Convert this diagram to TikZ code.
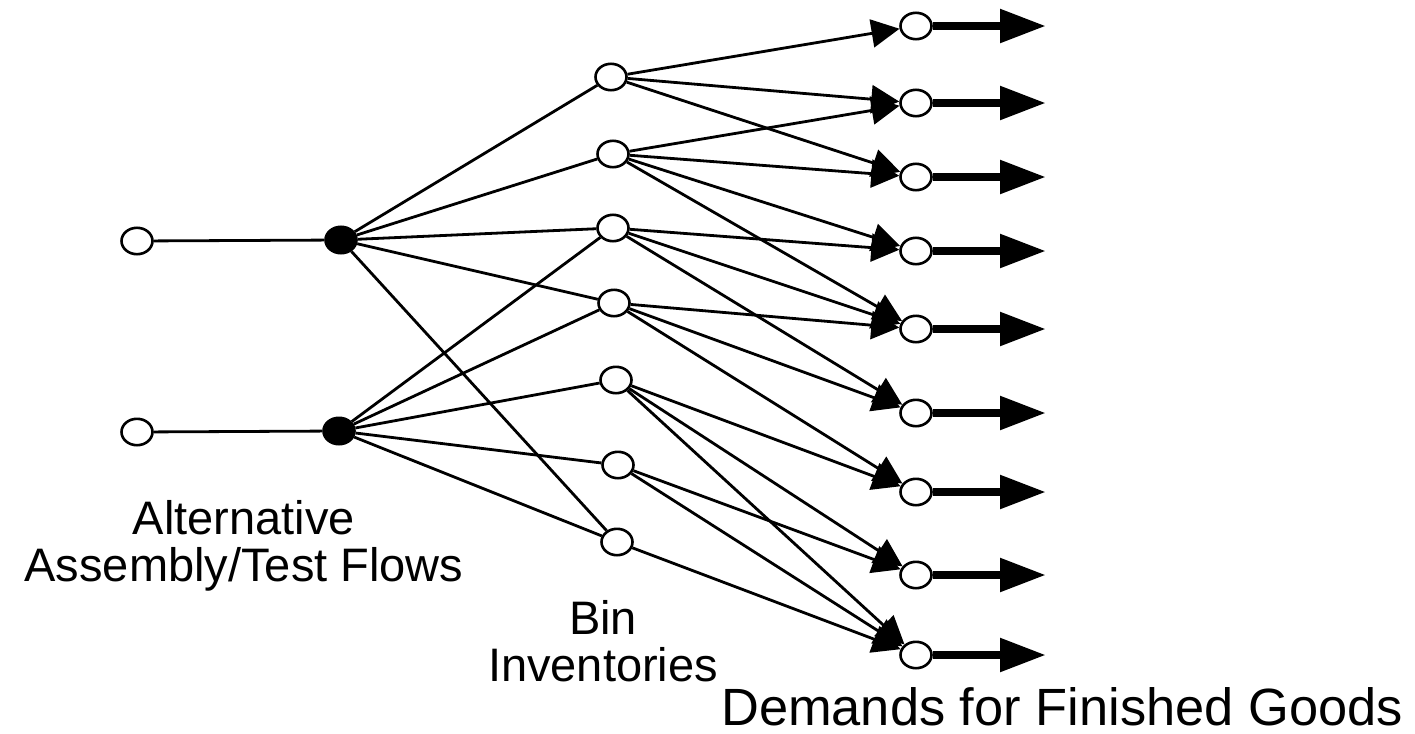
\documentclass[tikz,border=0pt]{standalone}
\usepackage{fontspec}
\setmainfont{Liberation Sans}
\usetikzlibrary{arrows.meta,shapes.geometric}
\begin{document}
\begin{tikzpicture}[x=0.5pt,y=-0.5pt,
  port/.style={ellipse,draw,line width=1.3pt,minimum width=15.5pt,
    minimum height=13.2pt,inner sep=0pt,fill=white},
  junction/.style={port,fill=black},
  link/.style={line width=1.4pt},
  feed/.style={link,-{Triangle[length=14pt,width=14pt]}},
  ship/.style={line width=4.2pt,-{Triangle[length=23pt,width=16pt]}},
  caption/.style={font=\fontsize{23.5}{23.5}\selectfont,align=center}]
\useasboundingbox (0,0) rectangle (1415,734);

% sources and assembly/test junctions
\node[port] (L1) at (137,241) {};
\node[port] (L2) at (137,432) {};
\node[junction] (F1) at (341,240) {};
\node[junction] (F2) at (339,431) {};

% bin inventories
\node[port] (B1) at (611,77) {};
\node[port] (B2) at (613,154) {};
\node[port] (B3) at (613,228) {};
\node[port] (B4) at (614,303) {};
\node[port] (B5) at (616,380) {};
\node[port] (B6) at (618,465) {};
\node[port] (B7) at (617,542) {};

% finished goods demands
\foreach \i/\y in {1/26,2/103,3/177,4/251,5/329,6/413,7/492,8/575,9/655}{
  \node[port] (D\i) at (916,\y) {};
  \coordinate (E\i) at (1046,\y);
}

% flows
\draw[link] (L1) -- (F1);
\draw[link] (L2) -- (F2);
\foreach \b in {1,2,3,4,7} \draw[link] (F1) -- (B\b);
\foreach \b in {3,4,5,6,7} \draw[link] (F2) -- (B\b);

\foreach \b/\d in {1/1,1/2,1/3,
                   2/2,2/3,2/4,2/5,
                   3/4,3/5,3/6,
                   4/5,4/6,4/7,
                   5/7,5/8,5/9,
                   6/8,6/9,
                   7/9}
  \draw[feed] (B\b) -- (D\d);

\foreach \i in {1,...,9} \draw[ship] (D\i) -- (E\i);

% labels
\node[caption] (capA) at (244,546) {Alternative\\Assembly/Test Flows};
\node[caption] (capB) at (603,641) {Bin\\Inventories};
\node[caption,font=\fontsize{26.2}{27}\selectfont,anchor=base] (capC) at (1062,725) {Demands for Finished Goods};
\end{tikzpicture}
\end{document}
